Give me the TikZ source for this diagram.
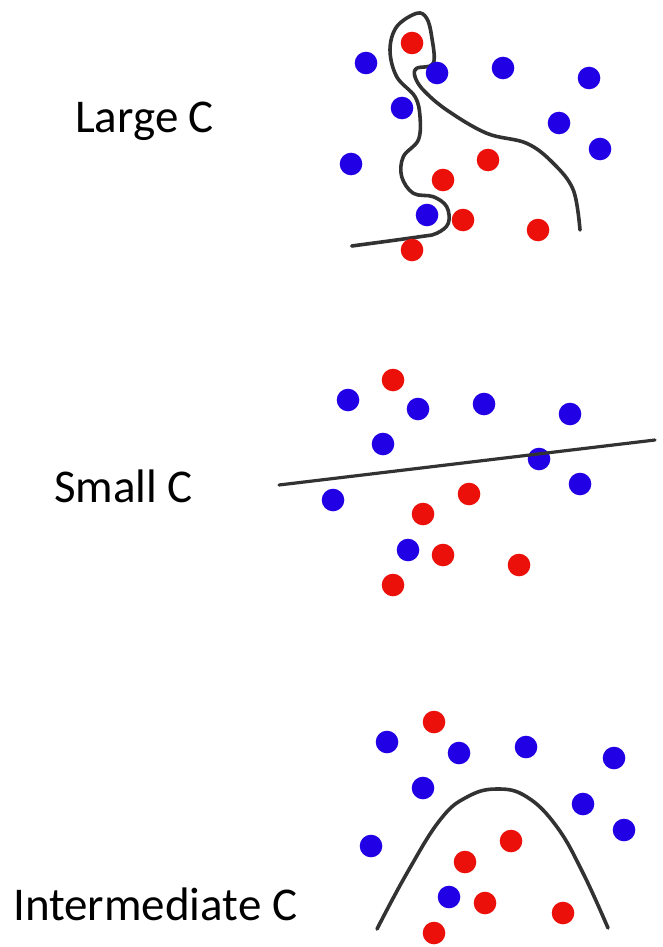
\documentclass[tikz,border=0pt]{standalone}
\usepackage{fontspec}
\setmainfont{Carlito}
\begin{document}
\begin{tikzpicture}[x=1pt,y=-1pt,
  bdot/.style={fill={rgb,255:red,34;green,0;blue,230}},
  rdot/.style={fill={rgb,255:red,236;green,16;blue,10}},
  boundary/.style={draw={rgb,255:red,50;green,50;blue,50},line width=3.6pt,line cap=round,line join=round},
  lbl/.style={anchor=base west,inner sep=0pt,font=\fontsize{47}{50}\selectfont}]
\useasboundingbox (0,0) rectangle (662,947);
% labels
\node[lbl] (l1) at (75,132) {Large C};
\node[lbl] (l2) at (54,502) {Small C};
\node[lbl] (l3) at (13,920) {Intermediate C};
\def\r{11.3}
% panel 1
\draw[boundary] plot[smooth,tension=0.6] coordinates {
 (351.7,246) (420,236.7) (436.7,233.3) (448.3,223.3) (446.7,206.7) (433.3,196.7)
 (413.3,193.3) (401.7,176.7) (403.3,156.7) (418.3,140) (420,116.7) (415,96.7)
 (396.7,76.7) (390,50) (396.7,26.7) (416.7,13.3) (426.7,18.3) (431.7,36.7)
 (433.3,63.3) (416.7,68.3) (415,76.7) (423.3,90) (446.7,110) (486.7,133.3)
 (526.7,143.3) (553.3,163.3) (573.3,190) (580,230)};
\foreach \p in {(366,63),(437,73),(503,68),(589,78),(402,108),(559,123),(600,149),(351,164),(427,215)}
  \fill[bdot] \p circle (\r);
\foreach \p in {(412,43),(488,160),(443,180),(463,220),(538,230),(412,250)}
  \fill[rdot] \p circle (\r);
% panel 2
\foreach \p in {(348,400),(418,409),(484,404),(570,414),(383,444),(539,459),(580,484),(333,500),(408,550)}
  \fill[bdot] \p circle (\r);
\foreach \p in {(393,380),(469,494),(423,514),(443,555),(519,565),(393,585)}
  \fill[rdot] \p circle (\r);
\coordinate (s1) at (279,485);
\coordinate (s2) at (655,440);
\draw[boundary,line width=3.2pt] (s1) -- (s2);
% panel 3
\draw[boundary] plot[smooth,tension=0.7] coordinates {
 (377,929) (407,873) (440,820) (467,797) (497,789) (527,797) (557,827) (583,873) (608,928)};
\foreach \p in {(387,742),(459,753),(526,747),(614,758),(423,788),(583,804),(624,830),(371,846),(449,897)}
  \fill[bdot] \p circle (\r);
\foreach \p in {(434,722),(511,841),(465,862),(485,903),(563,913),(434,933)}
  \fill[rdot] \p circle (\r);
\end{tikzpicture}
\end{document}
